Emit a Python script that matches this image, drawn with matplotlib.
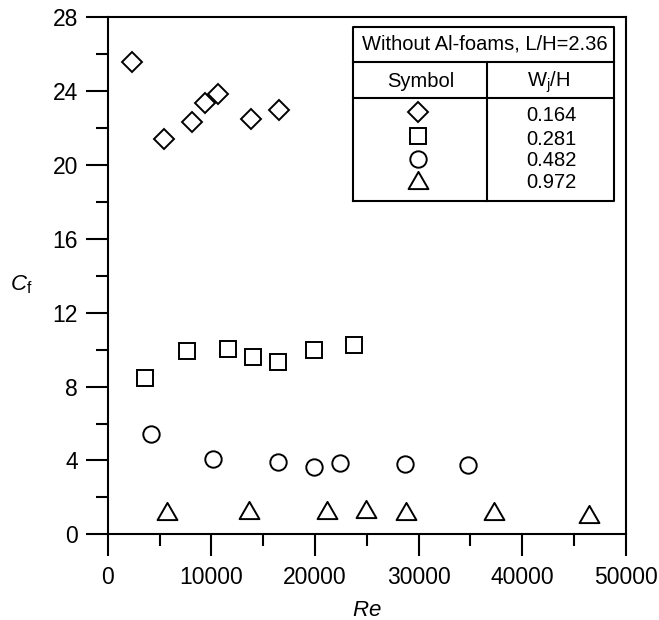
import matplotlib
matplotlib.use("Agg")
import matplotlib.pyplot as plt
import numpy as np
from matplotlib.path import Path

plt.rcParams['font.family'] = ['Liberation Sans', 'DejaVu Sans']
plt.rcParams['mathtext.fontset'] = 'custom'
plt.rcParams['mathtext.rm'] = 'Liberation Sans'
plt.rcParams['mathtext.it'] = 'Liberation Sans:italic'

# Friction coefficient vs Reynolds number for four jet widths
wj_labels = ['0.164', '0.281', '0.482', '0.972']

re_0164 = [2340, 5460, 8140, 9430, 10620, 13850, 16520]
cf_0164 = [25.57, 21.42, 22.32, 23.33, 23.84, 22.49, 22.97]

re_0281 = [3630, 7650, 11640, 13990, 16430, 19930, 23750]
cf_0281 = [8.45, 9.93, 10.02, 9.62, 9.35, 9.96, 10.25]

re_0482 = [4200, 10170, 16470, 19890, 22450, 28670, 34810]
cf_0482 = [5.44, 4.09, 3.93, 3.66, 3.84, 3.80, 3.77]

re_0972 = [5740, 13590, 21190, 24890, 28830, 37290, 46430]
cf_0972 = [1.24, 1.32, 1.32, 1.37, 1.28, 1.24, 1.08]

x_ticks = [0, 10000, 20000, 30000, 40000, 50000]
y_ticks = [0, 4, 8, 12, 16, 20, 24, 28]

# equilateral open triangle marker
tri = Path([(-1, -0.866), (1, -0.866), (0, 0.866), (-1, -0.866)],
           [Path.MOVETO, Path.LINETO, Path.LINETO, Path.CLOSEPOLY])

series = [
    (re_0164, cf_0164, 'D', 10.5),
    (re_0281, cf_0281, 's', 11.3),
    (re_0482, cf_0482, 'o', 11.8),
    (re_0972, cf_0972, tri, 14.3),
]

fig = plt.figure(figsize=(6.59, 6.20), dpi=100)
ax = fig.add_axes([0.1635, 0.1382, 0.7860, 0.8340])

for xs, ys, m, ms in series:
    ax.plot(xs, ys, linestyle='none', marker=m, markersize=ms,
            markerfacecolor='none', markeredgecolor='black',
            markeredgewidth=1.4, clip_on=False)

ax.set_xlim(0, 50000)
ax.set_ylim(0, 28)
ax.set_xticks(x_ticks)
ax.set_yticks(y_ticks)
ax.set_xticks(np.arange(5000, 50000, 10000), minor=True)
ax.set_yticks(np.arange(2, 28, 4), minor=True)
ax.tick_params(which='major', direction='out', length=15.5, width=1.5,
               labelsize=16.5)
ax.tick_params(which='minor', direction='out', length=8.5, width=1.5)
ax.tick_params(axis='x', which='major', pad=7)
ax.tick_params(axis='y', which='major', pad=6)
for sp in ax.spines.values():
    sp.set_linewidth(1.5)

ax.set_xlabel('$\\it{Re}$', fontsize=16, labelpad=8)
ax.set_ylabel('$C_\\mathrm{f}$', fontsize=16, rotation=0, ha='center', va='center')
ax.yaxis.set_label_coords(-0.168, 0.483)

# table-style key in upper right
T = ax.transAxes
box_l, box_r = 0.4726, 0.9778
box_t, sep1, sep2, box_b = 0.9819, 0.9143, 0.8436, 0.6454
div_x = 0.7320
lw = 1.5
ax.plot([box_l, box_r, box_r, box_l, box_l], [box_b, box_b, box_t, box_t, box_b],
        color='black', lw=lw, transform=T, clip_on=False)
ax.plot([box_l, box_r], [sep1, sep1], color='black', lw=lw, transform=T)
ax.plot([box_l, box_r], [sep2, sep2], color='black', lw=lw, transform=T)
ax.plot([div_x, div_x], [box_b, sep1], color='black', lw=lw, transform=T)

fs = 14.5
ax.text(0.7288, 0.9369, 'Without Al-foams, L/H=2.36',
        transform=T, ha='center', va='baseline', fontsize=fs)
ax.text(0.6048, 0.8660, 'Symbol', transform=T,
        ha='center', va='baseline', fontsize=fs)
ax.text(0.8507, 0.8660, 'W$_\\mathrm{j}$/H', transform=T,
        ha='center', va='baseline', fontsize=fs)

sym_x = 0.5985
val_x = 0.8562
sym_y = [0.8162, 0.7705, 0.7255, 0.6844]
val_y = [0.7985, 0.7535, 0.7116, 0.6699]
for (xs, ys, m, ms), sy, vy, lab in zip(series, sym_y, val_y, wj_labels):
    ax.plot([sym_x], [sy], linestyle='none', marker=m, markersize=ms,
            markerfacecolor='none', markeredgecolor='black',
            markeredgewidth=1.4, transform=T, clip_on=False)
    ax.text(val_x, vy, lab, transform=T, ha='center', va='baseline', fontsize=fs)

fig.savefig('out.png', dpi=100)
